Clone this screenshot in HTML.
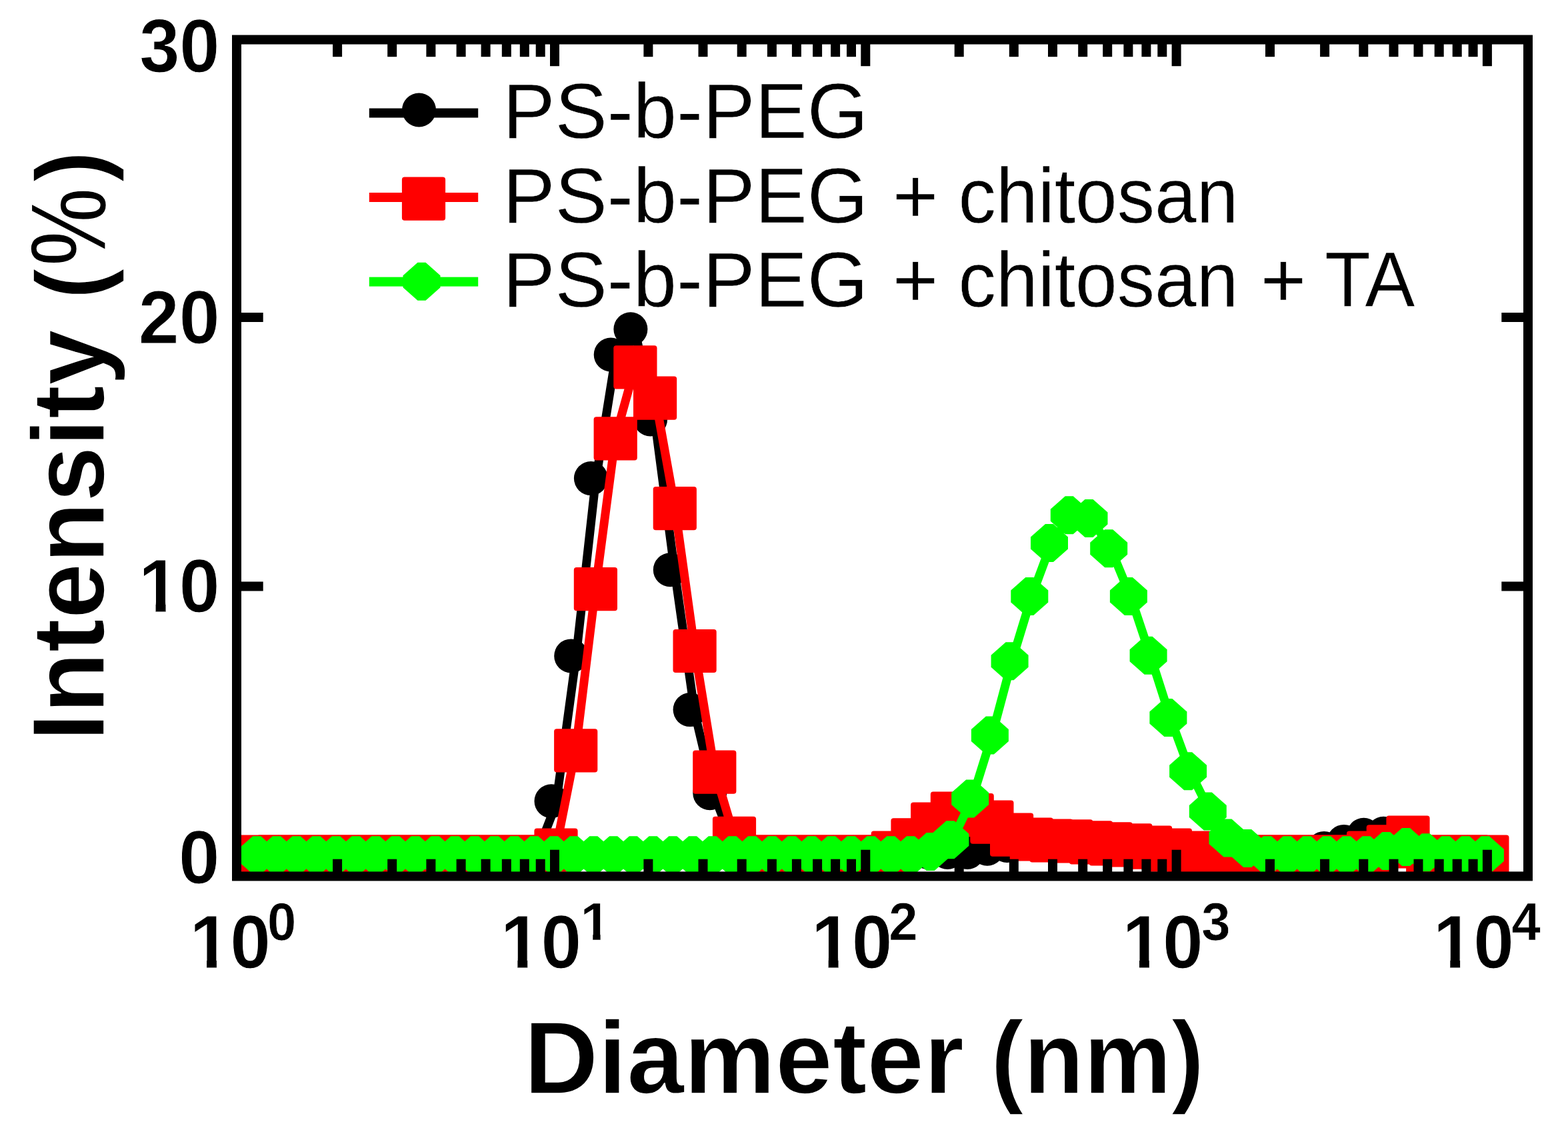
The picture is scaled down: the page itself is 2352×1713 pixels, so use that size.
<!DOCTYPE html>
<html lang="en"><head><meta charset="utf-8"><title>DLS intensity distribution</title>
<style>html,body{margin:0;padding:0;background:#fff}body{width:2352px;height:1713px;overflow:hidden}svg{display:block}text{font-family:"Liberation Sans",sans-serif;fill:#000}</style></head><body>
<svg width="2352" height="1713" viewBox="0 0 2352 1713">
<rect x="0" y="0" width="2352" height="1713" fill="#fff"/>
<g id="series">
<g fill="#000" stroke="none"><polyline fill="none" stroke="#000" stroke-width="13" stroke-linejoin="round" points="388.2,1283 417.9,1283 447.6,1283 477.4,1283 507.1,1283 536.8,1283 566.5,1283 596.2,1283 626,1283 655.7,1283 685.4,1283 715.1,1283 744.8,1283 774.6,1283 804.3,1283 834,1206.3 863.7,988.4 893.4,722.1 923.2,536.5 952.9,498.2 982.6,633.4 1012.3,859.3 1042.1,1069.1 1071.8,1194.2 1101.5,1270.9 1131.2,1283 1160.9,1283 1190.7,1283 1220.4,1283 1250.1,1283 1279.8,1283 1309.5,1283 1339.3,1283 1369,1283 1398.7,1283 1428.4,1283 1458.2,1283 1487.9,1277.8 1517.6,1272.9 1547.3,1268.9 1577,1266.9 1606.8,1266.9 1636.5,1266.9 1666.2,1268.9 1695.9,1270.9 1725.6,1274.9 1755.4,1279 1785.1,1283 1814.8,1283 1844.5,1283 1874.2,1283 1904,1283 1933.7,1283 1963.4,1283 1993.1,1276.9 2022.9,1266.9 2052.6,1256.8 2082.3,1254.8 2112,1266.9 2141.7,1283 2171.5,1283 2201.2,1283 2230.9,1283"/><circle cx="381.2" cy="1278.5" r="25.5"/><circle cx="410.9" cy="1278.5" r="25.5"/><circle cx="440.6" cy="1278.5" r="25.5"/><circle cx="470.4" cy="1278.5" r="25.5"/><circle cx="500.1" cy="1278.5" r="25.5"/><circle cx="529.8" cy="1278.5" r="25.5"/><circle cx="559.5" cy="1278.5" r="25.5"/><circle cx="589.2" cy="1278.5" r="25.5"/><circle cx="619" cy="1278.5" r="25.5"/><circle cx="648.7" cy="1278.5" r="25.5"/><circle cx="678.4" cy="1278.5" r="25.5"/><circle cx="708.1" cy="1278.5" r="25.5"/><circle cx="737.8" cy="1278.5" r="25.5"/><circle cx="767.6" cy="1278.5" r="25.5"/><circle cx="797.3" cy="1278.5" r="25.5"/><circle cx="827" cy="1201.8" r="25.5"/><circle cx="856.7" cy="983.9" r="25.5"/><circle cx="886.4" cy="717.6" r="25.5"/><circle cx="916.2" cy="532" r="25.5"/><circle cx="945.9" cy="493.7" r="25.5"/><circle cx="975.6" cy="628.9" r="25.5"/><circle cx="1005.3" cy="854.8" r="25.5"/><circle cx="1035.1" cy="1064.6" r="25.5"/><circle cx="1064.8" cy="1189.7" r="25.5"/><circle cx="1094.5" cy="1266.4" r="25.5"/><circle cx="1124.2" cy="1278.5" r="25.5"/><circle cx="1153.9" cy="1278.5" r="25.5"/><circle cx="1183.7" cy="1278.5" r="25.5"/><circle cx="1213.4" cy="1278.5" r="25.5"/><circle cx="1243.1" cy="1278.5" r="25.5"/><circle cx="1272.8" cy="1278.5" r="25.5"/><circle cx="1302.5" cy="1278.5" r="25.5"/><circle cx="1332.3" cy="1278.5" r="25.5"/><circle cx="1362" cy="1278.5" r="25.5"/><circle cx="1391.7" cy="1278.5" r="25.5"/><circle cx="1421.4" cy="1278.5" r="25.5"/><circle cx="1451.2" cy="1278.5" r="25.5"/><circle cx="1480.9" cy="1273.3" r="25.5"/><circle cx="1510.6" cy="1268.4" r="25.5"/><circle cx="1540.3" cy="1264.4" r="25.5"/><circle cx="1570" cy="1262.4" r="25.5"/><circle cx="1599.8" cy="1262.4" r="25.5"/><circle cx="1629.5" cy="1262.4" r="25.5"/><circle cx="1659.2" cy="1264.4" r="25.5"/><circle cx="1688.9" cy="1266.4" r="25.5"/><circle cx="1718.6" cy="1270.4" r="25.5"/><circle cx="1748.4" cy="1274.5" r="25.5"/><circle cx="1778.1" cy="1278.5" r="25.5"/><circle cx="1807.8" cy="1278.5" r="25.5"/><circle cx="1837.5" cy="1278.5" r="25.5"/><circle cx="1867.2" cy="1278.5" r="25.5"/><circle cx="1897" cy="1278.5" r="25.5"/><circle cx="1926.7" cy="1278.5" r="25.5"/><circle cx="1956.4" cy="1278.5" r="25.5"/><circle cx="1986.1" cy="1272.4" r="25.5"/><circle cx="2015.9" cy="1262.4" r="25.5"/><circle cx="2045.6" cy="1252.3" r="25.5"/><circle cx="2075.3" cy="1250.3" r="25.5"/><circle cx="2105" cy="1262.4" r="25.5"/><circle cx="2134.7" cy="1278.5" r="25.5"/><circle cx="2164.5" cy="1278.5" r="25.5"/><circle cx="2194.2" cy="1278.5" r="25.5"/><circle cx="2223.9" cy="1278.5" r="25.5"/></g>
<g fill="#f00" stroke="none"><polyline fill="none" stroke="#f00" stroke-width="13" stroke-linejoin="round" points="388.2,1283 417.9,1283 447.6,1283 477.4,1283 507.1,1283 536.8,1283 566.5,1283 596.2,1283 626,1283 655.7,1283 685.4,1283 715.1,1283 744.8,1283 774.6,1283 804.3,1283 834,1272.9 863.7,1123.6 893.4,881.5 923.2,655.6 952.9,548.6 982.6,595 1012.3,760.5 1042.1,974.3 1071.8,1155.9 1101.5,1255.2 1131.2,1283 1160.9,1283 1190.7,1283 1220.4,1283 1250.1,1283 1279.8,1283 1309.5,1283 1339.3,1276.9 1369,1257.6 1398.7,1233.8 1428.4,1218 1458.2,1220.5 1487.9,1230.9 1517.6,1249.9 1547.3,1256.8 1577,1258.8 1606.8,1259.6 1636.5,1261.6 1666.2,1263.6 1695.9,1265.6 1725.6,1268.9 1755.4,1272.9 1785.1,1276.9 1814.8,1279 1844.5,1283 1874.2,1283 1904,1283 1933.7,1283 1963.4,1283 1993.1,1283 2022.9,1283 2052.6,1276.9 2082.3,1267.7 2112,1253.9 2141.7,1283 2171.5,1283 2201.2,1283 2230.9,1283"/><rect x="355.6" y="1252.6" width="65.2" height="65.2" rx="4"/><rect x="385.3" y="1252.6" width="65.2" height="65.2" rx="4"/><rect x="415" y="1252.6" width="65.2" height="65.2" rx="4"/><rect x="444.8" y="1252.6" width="65.2" height="65.2" rx="4"/><rect x="474.5" y="1252.6" width="65.2" height="65.2" rx="4"/><rect x="504.2" y="1252.6" width="65.2" height="65.2" rx="4"/><rect x="533.9" y="1252.6" width="65.2" height="65.2" rx="4"/><rect x="563.6" y="1252.6" width="65.2" height="65.2" rx="4"/><rect x="593.4" y="1252.6" width="65.2" height="65.2" rx="4"/><rect x="623.1" y="1252.6" width="65.2" height="65.2" rx="4"/><rect x="652.8" y="1252.6" width="65.2" height="65.2" rx="4"/><rect x="682.5" y="1252.6" width="65.2" height="65.2" rx="4"/><rect x="712.2" y="1252.6" width="65.2" height="65.2" rx="4"/><rect x="742" y="1252.6" width="65.2" height="65.2" rx="4"/><rect x="771.7" y="1252.6" width="65.2" height="65.2" rx="4"/><rect x="801.4" y="1242.5" width="65.2" height="65.2" rx="4"/><rect x="831.1" y="1093.2" width="65.2" height="65.2" rx="4"/><rect x="860.8" y="851.1" width="65.2" height="65.2" rx="4"/><rect x="890.6" y="625.2" width="65.2" height="65.2" rx="4"/><rect x="920.3" y="518.2" width="65.2" height="65.2" rx="4"/><rect x="950" y="564.6" width="65.2" height="65.2" rx="4"/><rect x="979.7" y="730.1" width="65.2" height="65.2" rx="4"/><rect x="1009.5" y="943.9" width="65.2" height="65.2" rx="4"/><rect x="1039.2" y="1125.5" width="65.2" height="65.2" rx="4"/><rect x="1068.9" y="1224.8" width="65.2" height="65.2" rx="4"/><rect x="1098.6" y="1252.6" width="65.2" height="65.2" rx="4"/><rect x="1128.3" y="1252.6" width="65.2" height="65.2" rx="4"/><rect x="1158.1" y="1252.6" width="65.2" height="65.2" rx="4"/><rect x="1187.8" y="1252.6" width="65.2" height="65.2" rx="4"/><rect x="1217.5" y="1252.6" width="65.2" height="65.2" rx="4"/><rect x="1247.2" y="1252.6" width="65.2" height="65.2" rx="4"/><rect x="1276.9" y="1252.6" width="65.2" height="65.2" rx="4"/><rect x="1306.7" y="1246.5" width="65.2" height="65.2" rx="4"/><rect x="1336.4" y="1227.2" width="65.2" height="65.2" rx="4"/><rect x="1366.1" y="1203.4" width="65.2" height="65.2" rx="4"/><rect x="1395.8" y="1187.6" width="65.2" height="65.2" rx="4"/><rect x="1425.6" y="1190.1" width="65.2" height="65.2" rx="4"/><rect x="1455.3" y="1200.5" width="65.2" height="65.2" rx="4"/><rect x="1485" y="1219.5" width="65.2" height="65.2" rx="4"/><rect x="1514.7" y="1226.4" width="65.2" height="65.2" rx="4"/><rect x="1544.4" y="1228.4" width="65.2" height="65.2" rx="4"/><rect x="1574.2" y="1229.2" width="65.2" height="65.2" rx="4"/><rect x="1603.9" y="1231.2" width="65.2" height="65.2" rx="4"/><rect x="1633.6" y="1233.2" width="65.2" height="65.2" rx="4"/><rect x="1663.3" y="1235.2" width="65.2" height="65.2" rx="4"/><rect x="1693" y="1238.5" width="65.2" height="65.2" rx="4"/><rect x="1722.8" y="1242.5" width="65.2" height="65.2" rx="4"/><rect x="1752.5" y="1246.5" width="65.2" height="65.2" rx="4"/><rect x="1782.2" y="1248.6" width="65.2" height="65.2" rx="4"/><rect x="1811.9" y="1252.6" width="65.2" height="65.2" rx="4"/><rect x="1841.6" y="1252.6" width="65.2" height="65.2" rx="4"/><rect x="1871.4" y="1252.6" width="65.2" height="65.2" rx="4"/><rect x="1901.1" y="1252.6" width="65.2" height="65.2" rx="4"/><rect x="1930.8" y="1252.6" width="65.2" height="65.2" rx="4"/><rect x="1960.5" y="1252.6" width="65.2" height="65.2" rx="4"/><rect x="1990.3" y="1252.6" width="65.2" height="65.2" rx="4"/><rect x="2020" y="1246.5" width="65.2" height="65.2" rx="4"/><rect x="2049.7" y="1237.3" width="65.2" height="65.2" rx="4"/><rect x="2079.4" y="1223.5" width="65.2" height="65.2" rx="4"/><rect x="2109.1" y="1252.6" width="65.2" height="65.2" rx="4"/><rect x="2138.9" y="1252.6" width="65.2" height="65.2" rx="4"/><rect x="2168.6" y="1252.6" width="65.2" height="65.2" rx="4"/><rect x="2198.3" y="1252.6" width="65.2" height="65.2" rx="4"/></g>
<g fill="#0f0" stroke="none"><polyline fill="none" stroke="#0f0" stroke-width="13" stroke-linejoin="round" points="388.2,1283 417.9,1283 447.6,1283 477.4,1283 507.1,1283 536.8,1283 566.5,1283 596.2,1283 626,1283 655.7,1283 685.4,1283 715.1,1283 744.8,1283 774.6,1283 804.3,1283 834,1283 863.7,1283 893.4,1283 923.2,1283 952.9,1283 982.6,1283 1012.3,1283 1042.1,1283 1071.8,1283 1101.5,1283 1131.2,1283 1160.9,1283 1190.7,1283 1220.4,1283 1250.1,1283 1279.8,1283 1309.5,1283 1339.3,1283 1369,1283 1398.7,1277.8 1428.4,1260 1458.2,1198.3 1487.9,1103.4 1517.6,992.1 1547.3,894.8 1577,814.9 1606.8,773 1636.5,777.8 1666.2,823 1695.9,894.8 1725.6,983.6 1755.4,1076.8 1785.1,1157.1 1814.8,1217.2 1844.5,1257.2 1874.2,1272.9 1904,1283 1933.7,1283 1963.4,1283 1993.1,1283 2022.9,1283 2052.6,1283 2082.3,1276.9 2112,1270.9 2141.7,1279 2171.5,1283 2201.2,1283 2230.9,1283"/><path d="M379.2 1254.2L391.2 1254.2L413.2 1273.7L413.2 1291.7L391.2 1311.2L379.2 1311.2L357.2 1291.7L357.2 1273.7Z"/><path d="M408.9 1254.2L420.9 1254.2L442.9 1273.7L442.9 1291.7L420.9 1311.2L408.9 1311.2L386.9 1291.7L386.9 1273.7Z"/><path d="M438.6 1254.2L450.6 1254.2L472.6 1273.7L472.6 1291.7L450.6 1311.2L438.6 1311.2L416.6 1291.7L416.6 1273.7Z"/><path d="M468.4 1254.2L480.4 1254.2L502.4 1273.7L502.4 1291.7L480.4 1311.2L468.4 1311.2L446.4 1291.7L446.4 1273.7Z"/><path d="M498.1 1254.2L510.1 1254.2L532.1 1273.7L532.1 1291.7L510.1 1311.2L498.1 1311.2L476.1 1291.7L476.1 1273.7Z"/><path d="M527.8 1254.2L539.8 1254.2L561.8 1273.7L561.8 1291.7L539.8 1311.2L527.8 1311.2L505.8 1291.7L505.8 1273.7Z"/><path d="M557.5 1254.2L569.5 1254.2L591.5 1273.7L591.5 1291.7L569.5 1311.2L557.5 1311.2L535.5 1291.7L535.5 1273.7Z"/><path d="M587.2 1254.2L599.2 1254.2L621.2 1273.7L621.2 1291.7L599.2 1311.2L587.2 1311.2L565.2 1291.7L565.2 1273.7Z"/><path d="M617 1254.2L629 1254.2L651 1273.7L651 1291.7L629 1311.2L617 1311.2L595 1291.7L595 1273.7Z"/><path d="M646.7 1254.2L658.7 1254.2L680.7 1273.7L680.7 1291.7L658.7 1311.2L646.7 1311.2L624.7 1291.7L624.7 1273.7Z"/><path d="M676.4 1254.2L688.4 1254.2L710.4 1273.7L710.4 1291.7L688.4 1311.2L676.4 1311.2L654.4 1291.7L654.4 1273.7Z"/><path d="M706.1 1254.2L718.1 1254.2L740.1 1273.7L740.1 1291.7L718.1 1311.2L706.1 1311.2L684.1 1291.7L684.1 1273.7Z"/><path d="M735.8 1254.2L747.8 1254.2L769.8 1273.7L769.8 1291.7L747.8 1311.2L735.8 1311.2L713.8 1291.7L713.8 1273.7Z"/><path d="M765.6 1254.2L777.6 1254.2L799.6 1273.7L799.6 1291.7L777.6 1311.2L765.6 1311.2L743.6 1291.7L743.6 1273.7Z"/><path d="M795.3 1254.2L807.3 1254.2L829.3 1273.7L829.3 1291.7L807.3 1311.2L795.3 1311.2L773.3 1291.7L773.3 1273.7Z"/><path d="M825 1254.2L837 1254.2L859 1273.7L859 1291.7L837 1311.2L825 1311.2L803 1291.7L803 1273.7Z"/><path d="M854.7 1254.2L866.7 1254.2L888.7 1273.7L888.7 1291.7L866.7 1311.2L854.7 1311.2L832.7 1291.7L832.7 1273.7Z"/><path d="M884.4 1254.2L896.4 1254.2L918.4 1273.7L918.4 1291.7L896.4 1311.2L884.4 1311.2L862.4 1291.7L862.4 1273.7Z"/><path d="M914.2 1254.2L926.2 1254.2L948.2 1273.7L948.2 1291.7L926.2 1311.2L914.2 1311.2L892.2 1291.7L892.2 1273.7Z"/><path d="M943.9 1254.2L955.9 1254.2L977.9 1273.7L977.9 1291.7L955.9 1311.2L943.9 1311.2L921.9 1291.7L921.9 1273.7Z"/><path d="M973.6 1254.2L985.6 1254.2L1007.6 1273.7L1007.6 1291.7L985.6 1311.2L973.6 1311.2L951.6 1291.7L951.6 1273.7Z"/><path d="M1003.3 1254.2L1015.3 1254.2L1037.3 1273.7L1037.3 1291.7L1015.3 1311.2L1003.3 1311.2L981.3 1291.7L981.3 1273.7Z"/><path d="M1033.1 1254.2L1045.1 1254.2L1067.1 1273.7L1067.1 1291.7L1045.1 1311.2L1033.1 1311.2L1011.1 1291.7L1011.1 1273.7Z"/><path d="M1062.8 1254.2L1074.8 1254.2L1096.8 1273.7L1096.8 1291.7L1074.8 1311.2L1062.8 1311.2L1040.8 1291.7L1040.8 1273.7Z"/><path d="M1092.5 1254.2L1104.5 1254.2L1126.5 1273.7L1126.5 1291.7L1104.5 1311.2L1092.5 1311.2L1070.5 1291.7L1070.5 1273.7Z"/><path d="M1122.2 1254.2L1134.2 1254.2L1156.2 1273.7L1156.2 1291.7L1134.2 1311.2L1122.2 1311.2L1100.2 1291.7L1100.2 1273.7Z"/><path d="M1151.9 1254.2L1163.9 1254.2L1185.9 1273.7L1185.9 1291.7L1163.9 1311.2L1151.9 1311.2L1129.9 1291.7L1129.9 1273.7Z"/><path d="M1181.7 1254.2L1193.7 1254.2L1215.7 1273.7L1215.7 1291.7L1193.7 1311.2L1181.7 1311.2L1159.7 1291.7L1159.7 1273.7Z"/><path d="M1211.4 1254.2L1223.4 1254.2L1245.4 1273.7L1245.4 1291.7L1223.4 1311.2L1211.4 1311.2L1189.4 1291.7L1189.4 1273.7Z"/><path d="M1241.1 1254.2L1253.1 1254.2L1275.1 1273.7L1275.1 1291.7L1253.1 1311.2L1241.1 1311.2L1219.1 1291.7L1219.1 1273.7Z"/><path d="M1270.8 1254.2L1282.8 1254.2L1304.8 1273.7L1304.8 1291.7L1282.8 1311.2L1270.8 1311.2L1248.8 1291.7L1248.8 1273.7Z"/><path d="M1300.5 1254.2L1312.5 1254.2L1334.5 1273.7L1334.5 1291.7L1312.5 1311.2L1300.5 1311.2L1278.5 1291.7L1278.5 1273.7Z"/><path d="M1330.3 1254.2L1342.3 1254.2L1364.3 1273.7L1364.3 1291.7L1342.3 1311.2L1330.3 1311.2L1308.3 1291.7L1308.3 1273.7Z"/><path d="M1360 1254.2L1372 1254.2L1394 1273.7L1394 1291.7L1372 1311.2L1360 1311.2L1338 1291.7L1338 1273.7Z"/><path d="M1389.7 1249L1401.7 1249L1423.7 1268.5L1423.7 1286.5L1401.7 1306L1389.7 1306L1367.7 1286.5L1367.7 1268.5Z"/><path d="M1419.4 1231.2L1431.4 1231.2L1453.4 1250.7L1453.4 1268.7L1431.4 1288.2L1419.4 1288.2L1397.4 1268.7L1397.4 1250.7Z"/><path d="M1449.2 1169.5L1461.2 1169.5L1483.2 1189L1483.2 1207L1461.2 1226.5L1449.2 1226.5L1427.2 1207L1427.2 1189Z"/><path d="M1478.9 1074.6L1490.9 1074.6L1512.9 1094.1L1512.9 1112.1L1490.9 1131.6L1478.9 1131.6L1456.9 1112.1L1456.9 1094.1Z"/><path d="M1508.6 963.3L1520.6 963.3L1542.6 982.8L1542.6 1000.8L1520.6 1020.3L1508.6 1020.3L1486.6 1000.8L1486.6 982.8Z"/><path d="M1538.3 866L1550.3 866L1572.3 885.5L1572.3 903.5L1550.3 923L1538.3 923L1516.3 903.5L1516.3 885.5Z"/><path d="M1568 786.1L1580 786.1L1602 805.6L1602 823.6L1580 843.1L1568 843.1L1546 823.6L1546 805.6Z"/><path d="M1597.8 744.2L1609.8 744.2L1631.8 763.7L1631.8 781.7L1609.8 801.2L1597.8 801.2L1575.8 781.7L1575.8 763.7Z"/><path d="M1627.5 749L1639.5 749L1661.5 768.5L1661.5 786.5L1639.5 806L1627.5 806L1605.5 786.5L1605.5 768.5Z"/><path d="M1657.2 794.2L1669.2 794.2L1691.2 813.7L1691.2 831.7L1669.2 851.2L1657.2 851.2L1635.2 831.7L1635.2 813.7Z"/><path d="M1686.9 866L1698.9 866L1720.9 885.5L1720.9 903.5L1698.9 923L1686.9 923L1664.9 903.5L1664.9 885.5Z"/><path d="M1716.6 954.8L1728.6 954.8L1750.6 974.3L1750.6 992.3L1728.6 1011.8L1716.6 1011.8L1694.6 992.3L1694.6 974.3Z"/><path d="M1746.4 1048L1758.4 1048L1780.4 1067.5L1780.4 1085.5L1758.4 1105L1746.4 1105L1724.4 1085.5L1724.4 1067.5Z"/><path d="M1776.1 1128.3L1788.1 1128.3L1810.1 1147.8L1810.1 1165.8L1788.1 1185.3L1776.1 1185.3L1754.1 1165.8L1754.1 1147.8Z"/><path d="M1805.8 1188.4L1817.8 1188.4L1839.8 1207.9L1839.8 1225.9L1817.8 1245.4L1805.8 1245.4L1783.8 1225.9L1783.8 1207.9Z"/><path d="M1835.5 1228.4L1847.5 1228.4L1869.5 1247.9L1869.5 1265.9L1847.5 1285.4L1835.5 1285.4L1813.5 1265.9L1813.5 1247.9Z"/><path d="M1865.2 1244.1L1877.2 1244.1L1899.2 1263.6L1899.2 1281.6L1877.2 1301.1L1865.2 1301.1L1843.2 1281.6L1843.2 1263.6Z"/><path d="M1895 1254.2L1907 1254.2L1929 1273.7L1929 1291.7L1907 1311.2L1895 1311.2L1873 1291.7L1873 1273.7Z"/><path d="M1924.7 1254.2L1936.7 1254.2L1958.7 1273.7L1958.7 1291.7L1936.7 1311.2L1924.7 1311.2L1902.7 1291.7L1902.7 1273.7Z"/><path d="M1954.4 1254.2L1966.4 1254.2L1988.4 1273.7L1988.4 1291.7L1966.4 1311.2L1954.4 1311.2L1932.4 1291.7L1932.4 1273.7Z"/><path d="M1984.1 1254.2L1996.1 1254.2L2018.1 1273.7L2018.1 1291.7L1996.1 1311.2L1984.1 1311.2L1962.1 1291.7L1962.1 1273.7Z"/><path d="M2013.9 1254.2L2025.9 1254.2L2047.9 1273.7L2047.9 1291.7L2025.9 1311.2L2013.9 1311.2L1991.9 1291.7L1991.9 1273.7Z"/><path d="M2043.6 1254.2L2055.6 1254.2L2077.6 1273.7L2077.6 1291.7L2055.6 1311.2L2043.6 1311.2L2021.6 1291.7L2021.6 1273.7Z"/><path d="M2073.3 1248.1L2085.3 1248.1L2107.3 1267.6L2107.3 1285.6L2085.3 1305.1L2073.3 1305.1L2051.3 1285.6L2051.3 1267.6Z"/><path d="M2103 1242.1L2115 1242.1L2137 1261.6L2137 1279.6L2115 1299.1L2103 1299.1L2081 1279.6L2081 1261.6Z"/><path d="M2132.7 1250.2L2144.7 1250.2L2166.7 1269.7L2166.7 1287.7L2144.7 1307.2L2132.7 1307.2L2110.7 1287.7L2110.7 1269.7Z"/><path d="M2162.5 1254.2L2174.5 1254.2L2196.5 1273.7L2196.5 1291.7L2174.5 1311.2L2162.5 1311.2L2140.5 1291.7L2140.5 1273.7Z"/><path d="M2192.2 1254.2L2204.2 1254.2L2226.2 1273.7L2226.2 1291.7L2204.2 1311.2L2192.2 1311.2L2170.2 1291.7L2170.2 1273.7Z"/><path d="M2221.9 1254.2L2233.9 1254.2L2255.9 1273.7L2255.9 1291.7L2233.9 1311.2L2221.9 1311.2L2199.9 1291.7L2199.9 1273.7Z"/></g>
</g>
<g id="axes" fill="#000">
<rect x="355" y="59.5" width="1937" height="1254.9" fill="none" stroke="#000" stroke-width="14"/>
<rect x="499.1" y="65.5" width="14" height="19.7"/>
<rect x="499.1" y="1288.7" width="14" height="19.7"/>
<rect x="581.2" y="65.5" width="14" height="19.7"/>
<rect x="581.2" y="1288.7" width="14" height="19.7"/>
<rect x="639.4" y="65.5" width="14" height="19.7"/>
<rect x="639.4" y="1288.7" width="14" height="19.7"/>
<rect x="684.6" y="65.5" width="14" height="19.7"/>
<rect x="684.6" y="1288.7" width="14" height="19.7"/>
<rect x="721.6" y="65.5" width="14" height="19.7"/>
<rect x="721.6" y="1288.7" width="14" height="19.7"/>
<rect x="752.8" y="65.5" width="14" height="19.7"/>
<rect x="752.8" y="1288.7" width="14" height="19.7"/>
<rect x="779.8" y="65.5" width="14" height="19.7"/>
<rect x="779.8" y="1288.7" width="14" height="19.7"/>
<rect x="803.7" y="65.5" width="14" height="19.7"/>
<rect x="803.7" y="1288.7" width="14" height="19.7"/>
<rect x="825" y="65.5" width="14" height="33.7"/>
<rect x="825" y="1274.7" width="14" height="33.7"/>
<rect x="965.4" y="65.5" width="14" height="19.7"/>
<rect x="965.4" y="1288.7" width="14" height="19.7"/>
<rect x="1047.5" y="65.5" width="14" height="19.7"/>
<rect x="1047.5" y="1288.7" width="14" height="19.7"/>
<rect x="1105.7" y="65.5" width="14" height="19.7"/>
<rect x="1105.7" y="1288.7" width="14" height="19.7"/>
<rect x="1150.9" y="65.5" width="14" height="19.7"/>
<rect x="1150.9" y="1288.7" width="14" height="19.7"/>
<rect x="1187.9" y="65.5" width="14" height="19.7"/>
<rect x="1187.9" y="1288.7" width="14" height="19.7"/>
<rect x="1219.1" y="65.5" width="14" height="19.7"/>
<rect x="1219.1" y="1288.7" width="14" height="19.7"/>
<rect x="1246.1" y="65.5" width="14" height="19.7"/>
<rect x="1246.1" y="1288.7" width="14" height="19.7"/>
<rect x="1270" y="65.5" width="14" height="19.7"/>
<rect x="1270" y="1288.7" width="14" height="19.7"/>
<rect x="1291.3" y="65.5" width="14" height="33.7"/>
<rect x="1291.3" y="1274.7" width="14" height="33.7"/>
<rect x="1431.7" y="65.5" width="14" height="19.7"/>
<rect x="1431.7" y="1288.7" width="14" height="19.7"/>
<rect x="1513.8" y="65.5" width="14" height="19.7"/>
<rect x="1513.8" y="1288.7" width="14" height="19.7"/>
<rect x="1572" y="65.5" width="14" height="19.7"/>
<rect x="1572" y="1288.7" width="14" height="19.7"/>
<rect x="1617.2" y="65.5" width="14" height="19.7"/>
<rect x="1617.2" y="1288.7" width="14" height="19.7"/>
<rect x="1654.2" y="65.5" width="14" height="19.7"/>
<rect x="1654.2" y="1288.7" width="14" height="19.7"/>
<rect x="1685.4" y="65.5" width="14" height="19.7"/>
<rect x="1685.4" y="1288.7" width="14" height="19.7"/>
<rect x="1712.4" y="65.5" width="14" height="19.7"/>
<rect x="1712.4" y="1288.7" width="14" height="19.7"/>
<rect x="1736.3" y="65.5" width="14" height="19.7"/>
<rect x="1736.3" y="1288.7" width="14" height="19.7"/>
<rect x="1757.6" y="65.5" width="14" height="33.7"/>
<rect x="1757.6" y="1274.7" width="14" height="33.7"/>
<rect x="1898" y="65.5" width="14" height="19.7"/>
<rect x="1898" y="1288.7" width="14" height="19.7"/>
<rect x="1980.1" y="65.5" width="14" height="19.7"/>
<rect x="1980.1" y="1288.7" width="14" height="19.7"/>
<rect x="2038.3" y="65.5" width="14" height="19.7"/>
<rect x="2038.3" y="1288.7" width="14" height="19.7"/>
<rect x="2083.5" y="65.5" width="14" height="19.7"/>
<rect x="2083.5" y="1288.7" width="14" height="19.7"/>
<rect x="2120.5" y="65.5" width="14" height="19.7"/>
<rect x="2120.5" y="1288.7" width="14" height="19.7"/>
<rect x="2151.7" y="65.5" width="14" height="19.7"/>
<rect x="2151.7" y="1288.7" width="14" height="19.7"/>
<rect x="2178.7" y="65.5" width="14" height="19.7"/>
<rect x="2178.7" y="1288.7" width="14" height="19.7"/>
<rect x="2202.6" y="65.5" width="14" height="19.7"/>
<rect x="2202.6" y="1288.7" width="14" height="19.7"/>
<rect x="2223.9" y="65.5" width="14" height="33.7"/>
<rect x="2223.9" y="1274.7" width="14" height="33.7"/>
<rect x="361" y="872.5" width="33.7" height="14"/>
<rect x="2252.3" y="872.5" width="33.7" height="14"/>
<rect x="361" y="469" width="33.7" height="14"/>
<rect x="2252.3" y="469" width="33.7" height="14"/>
</g>
<g id="ticklabels">
<text transform="translate(209.2 107.7) scale(0.954 1)" font-size="113.4" font-weight="bold" stroke="#fff" stroke-width="1">30</text>
<text transform="translate(207.8 514.9) scale(0.965 1)" font-size="113.4" font-weight="bold" stroke="#fff" stroke-width="1">20</text>
<g clip-path="url(#c0)"><text transform="translate(207.9 918) scale(0.9644 1)" font-size="113.4" font-weight="bold" stroke="#fff" stroke-width="1">10</text></g>
<text transform="translate(268 1325) scale(0.9745 1)" font-size="113.4" font-weight="bold" stroke="#fff" stroke-width="1">0</text>
<g clip-path="url(#c1)"><text transform="translate(284.5 1451.5) scale(0.9618 1)" font-size="113.4" font-weight="bold" stroke="#fff" stroke-width="1">10</text></g>
<text transform="translate(400.9 1409.8) scale(0.965 1)" font-size="80.6" font-weight="bold" stroke="#fff" stroke-width="0.7">0</text>
<g clip-path="url(#c2)"><text transform="translate(750.8 1451.5) scale(0.9618 1)" font-size="113.4" font-weight="bold" stroke="#fff" stroke-width="1">10</text></g>
<g clip-path="url(#c3)"><text transform="translate(870.4 1409.8) scale(1.0057 1)" font-size="80.6" font-weight="bold" stroke="#fff" stroke-width="0.7">1</text></g>
<g clip-path="url(#c4)"><text transform="translate(1217.1 1451.5) scale(0.9618 1)" font-size="113.4" font-weight="bold" stroke="#fff" stroke-width="1">10</text></g>
<text transform="translate(1333.2 1409.8) scale(0.965 1)" font-size="80.6" font-weight="bold" stroke="#fff" stroke-width="0.7">2</text>
<g clip-path="url(#c5)"><text transform="translate(1683.4 1451.5) scale(0.9618 1)" font-size="113.4" font-weight="bold" stroke="#fff" stroke-width="1">10</text></g>
<text transform="translate(1802.3 1409.8) scale(0.965 1)" font-size="80.6" font-weight="bold" stroke="#fff" stroke-width="0.7">3</text>
<g clip-path="url(#c6)"><text transform="translate(2149.7 1451.5) scale(0.9618 1)" font-size="113.4" font-weight="bold" stroke="#fff" stroke-width="1">10</text></g>
<text transform="translate(2267.6 1409.8) scale(0.965 1)" font-size="80.6" font-weight="bold" stroke="#fff" stroke-width="0.7">4</text>
</g>
<g id="titles">
<text transform="translate(786 1639.8) scale(1.0041 1)" font-size="153.6" font-weight="bold" stroke="#fff" stroke-width="1.6">Diameter</text>
<text transform="translate(1486.3 1639.8) scale(0.9617 1)" font-size="153.6" font-weight="bold" stroke="#fff" stroke-width="1.6">(nm)</text>
<text transform="translate(155.8 1111.6) rotate(-90) scale(0.9772 1)" font-size="153.6" font-weight="bold" stroke="#fff" stroke-width="1.6">Intensity</text>
<text transform="translate(155.8 448.4) rotate(-90) scale(0.9414 1)" font-size="146.7" font-weight="bold" stroke="#fff" stroke-width="1.6">(</text>
<text transform="translate(160.3 399.2) rotate(-90) scale(0.8027 1)" font-size="165.2" font-weight="bold" stroke="#fff" stroke-width="4.6">%</text>
<text transform="translate(155.8 273.3) rotate(-90) scale(0.9542 1)" font-size="146.7" font-weight="bold" stroke="#fff" stroke-width="1.6">)</text>
</g>
<g id="legend">
<g fill="#000"><rect x="553.8" y="162.5" width="163.4" height="14"/><circle cx="628.5" cy="165" r="25.5"/></g>
<g fill="#f00"><rect x="553.8" y="289" width="163.4" height="14"/><rect x="602.9" y="265.6" width="65.2" height="65.2" rx="4"/></g>
<g fill="#0f0"><rect x="553.8" y="415.6" width="163.4" height="14"/><path d="M626.5 393.8L638.5 393.8L660.5 413.3L660.5 431.3L638.5 450.8L626.5 450.8L604.5 431.3L604.5 413.3Z"/></g>
<text transform="translate(754.3 206.8) scale(1.0097 1)" font-size="116.2" stroke="#fff" stroke-width="0.5">PS-b-PEG</text>
<text transform="translate(754.3 333.5) scale(1.0097 1)" font-size="116.2" stroke="#fff" stroke-width="0.5">PS-b-PEG</text>
<text transform="translate(1339 333.5) scale(1.0058 1)" font-size="116.2" stroke="#fff" stroke-width="0.5">+</text>
<text transform="translate(1437.6 333.5) scale(0.9702 1)" font-size="116.2" stroke="#fff" stroke-width="0.5">chitosan</text>
<text transform="translate(754.3 460.1) scale(1.0097 1)" font-size="116.2" stroke="#fff" stroke-width="0.5">PS-b-PEG</text>
<text transform="translate(1339 460.1) scale(1.0058 1)" font-size="116.2" stroke="#fff" stroke-width="0.5">+</text>
<text transform="translate(1437.6 460.1) scale(0.9702 1)" font-size="116.2" stroke="#fff" stroke-width="0.5">chitosan</text>
<text transform="translate(1890.7 460.1) scale(1.0094 1)" font-size="116.2" stroke="#fff" stroke-width="0.5">+</text>
<text transform="translate(1987.3 460.1) scale(0.965 1)" font-size="116.2" stroke="#fff" stroke-width="0.5">TA</text>
</g>
<defs><clipPath id="c0"><rect x="187.9" y="781.9" width="400" height="122.3"/><rect x="233.6" y="903.2" width="14.9" height="45.4"/><rect x="266.8" y="903.2" width="400" height="45.4"/></clipPath><clipPath id="c1"><rect x="264.5" y="1315.4" width="400" height="122.3"/><rect x="310.1" y="1436.7" width="14.8" height="45.4"/><rect x="343.3" y="1436.7" width="400" height="45.4"/></clipPath><clipPath id="c2"><rect x="730.8" y="1315.4" width="400" height="122.3"/><rect x="776.4" y="1436.7" width="14.8" height="45.4"/><rect x="809.6" y="1436.7" width="400" height="45.4"/></clipPath><clipPath id="c3"><rect x="850.4" y="1313.1" width="400" height="85.6"/><rect x="889.3" y="1397.7" width="11.3" height="32.2"/><rect x="914.5" y="1397.7" width="400" height="32.2"/></clipPath><clipPath id="c4"><rect x="1197.1" y="1315.4" width="400" height="122.3"/><rect x="1242.7" y="1436.7" width="14.8" height="45.4"/><rect x="1275.9" y="1436.7" width="400" height="45.4"/></clipPath><clipPath id="c5"><rect x="1663.4" y="1315.4" width="400" height="122.3"/><rect x="1709" y="1436.7" width="14.8" height="45.4"/><rect x="1742.2" y="1436.7" width="400" height="45.4"/></clipPath><clipPath id="c6"><rect x="2129.7" y="1315.4" width="400" height="122.3"/><rect x="2175.3" y="1436.7" width="14.8" height="45.4"/><rect x="2208.5" y="1436.7" width="400" height="45.4"/></clipPath></defs>
</svg></body></html>
